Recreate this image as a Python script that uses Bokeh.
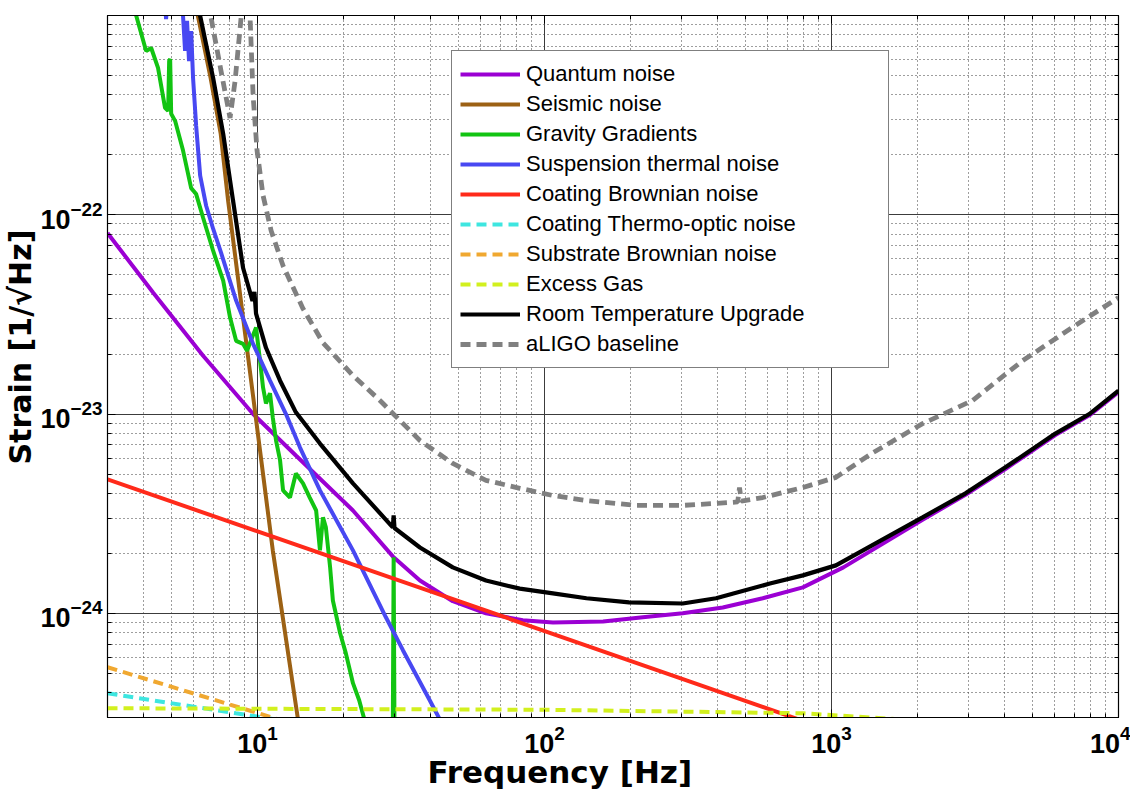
from bokeh.plotting import figure
from bokeh.models import (Range1d, LogAxis, FixedTicker, Legend, LegendItem, Title,
                          CustomJSTickFormatter)
from bokeh.embed import file_html
from bokeh.resources import INLINE

# ---------------- data ----------------
quantum_f = [3.0, 4.33, 6.46, 9.65, 13.6, 21.5, 29.6, 36.8, 47.9, 62.5, 84, 107, 160, 220,
             303, 418, 576, 795, 1100, 2076, 2930, 4036, 6026, 7913, 10000]
quantum_h = [8.1e-23, 4.06e-23, 1.96e-23, 1.0e-23, 6.19e-24, 3.28e-24, 1.93e-24, 1.46e-24,
             1.15e-24, 1.0e-24, 9.23e-25, 9.0e-25, 9.1e-25, 9.55e-25, 1.0e-24, 1.07e-24,
             1.19e-24, 1.35e-24, 1.70e-24, 2.95e-24, 3.93e-24, 5.3e-24, 7.85e-24, 9.85e-24,
             1.29e-23]

seismic_f = [5.9, 6.2, 6.86, 7.44, 7.9, 10.2, 11.3, 13.8, 14.6]
seismic_h = [1.45e-21, 9.9e-22, 4.86e-22, 2.55e-22, 1.17e-22, 6.56e-24, 2.07e-24, 3.0e-25,
             1.6e-25]

gravity_f = [3.54, 3.78, 4.09, 4.26, 4.50, 4.76, 4.88, 4.92, 4.96, 5.00, 5.16, 5.50, 5.87,
             6.11, 6.46, 7.0, 7.59, 8.02, 8.42, 8.9, 9.19, 9.88, 10.2, 10.45, 10.7, 11.05,
             11.3, 11.6, 11.98, 12.27, 12.97, 13.6, 14.4, 15.2, 16.0, 16.5, 16.9, 17.3,
             17.9, 18.3, 19.4, 20.3, 21.5, 22.6, 23.6, 25.2, 29.5, 29.8, 30.1, 40.0]
gravity_h = [1.49e-21, 9.94e-22, 6.64e-22, 6.87e-22, 5.46e-22, 3.44e-22, 3.32e-22, 5.92e-22,
             6.05e-22, 3.21e-22, 2.96e-22, 2.10e-22, 1.36e-22, 1.27e-22, 9.66e-23, 6.6e-23,
             4.67e-23, 3.05e-23, 2.33e-23, 2.25e-23, 2.08e-23, 2.72e-23, 1.85e-23, 1.36e-23,
             1.13e-23, 1.27e-23, 9.6e-24, 7.36e-24, 5.85e-24, 4.14e-24, 3.81e-24, 5.03e-24,
             4.49e-24, 3.81e-24, 3.28e-24, 2.07e-24, 3.03e-24, 2.70e-24, 1.70e-24, 1.16e-24,
             7.94e-25, 6.31e-25, 4.46e-25, 3.66e-25, 2.91e-25, 1.83e-25, 1.0e-25, 1.91e-24,
             1.0e-25, 5e-26]

suspension_f = [4.69, 4.80, 4.92, 5.41, 5.50, 5.59, 5.68, 5.77, 5.87, 5.96, 6.11, 6.31, 6.62,
                7.0, 7.46, 8.42, 9.65, 11.05, 12.56, 14.06, 16.5, 21.5, 28.0, 32.1, 39.8, 44.2]
suspension_h = [1.6e-21, 9.6e-22, 1.6e-21, 1.5e-21, 9.94e-22, 6.64e-22, 9.4e-22, 5.9e-22,
                8.35e-22, 4.86e-22, 2.79e-22, 1.57e-22, 1.11e-22, 8.51e-23, 6.45e-23,
                3.71e-23, 2.25e-23, 1.47e-23, 1.0e-23, 6.79e-24, 4.14e-24, 2.07e-24,
                9.55e-25, 6.53e-25, 3.66e-25, 2.75e-25]

coating_brown_f = [3, 30, 300, 1000]
coating_brown_h = [4.70e-24, 1.49e-24, 4.70e-25, 2.57e-25]

coating_to_f = [3, 8.4, 20]
coating_to_h = [3.97e-25, 3.15e-25, 2.6e-25]

substrate_f = [3, 10, 20]
substrate_h = [5.36e-25, 3.16e-25, 2.33e-25]

gas_f = [3, 100, 800, 2000, 10000]
gas_h = [3.34e-25, 3.28e-25, 3.15e-25, 2.9e-25, 2.5e-25]

rtu_f = [6.0, 6.31, 7.0, 7.59, 8.22, 8.9, 9.6, 9.75, 9.88, 10.7, 11.98, 13.6, 16.5,
         21.5, 29.6, 29.8, 30.0, 36.8, 47.9, 62.5, 82, 107, 140, 197, 303, 396, 610, 795,
         1036, 2076, 2930, 4036, 6026, 7913, 10000]
rtu_h = [1.4e-21, 9.94e-22, 4.86e-22, 2.55e-22, 1.17e-22, 5.42e-23, 3.7e-23, 4.1e-23,
         3.19e-23, 2.15e-23, 1.47e-23, 1.02e-23, 7.11e-24, 4.49e-24, 2.70e-24,
         3.10e-24, 2.68e-24, 2.14e-24, 1.70e-24, 1.46e-24, 1.33e-24, 1.26e-24, 1.19e-24,
         1.135e-24, 1.12e-24, 1.19e-24, 1.41e-24, 1.55e-24, 1.74e-24, 3.03e-24, 4.0e-24,
         5.4e-24, 7.98e-24, 1.0e-23, 1.31e-23]

aligo_f = [6.72, 6.89, 7.46, 8.02, 8.35, 8.76, 9.0, 9.42, 9.65, 9.96, 10.45, 11.15, 12.27,
           14.4, 16.9, 21.5, 26.7, 36.8, 47.9, 62.5, 82, 107, 140, 207, 303, 396, 471, 478,
           485, 576, 795, 1036, 1380, 2076, 3105, 4628, 6900, 10000]
aligo_h = [1.4e-21, 9.7e-22, 5.27e-22, 3.06e-22, 4.70e-22, 9.7e-22, 3.0e-21, 9.7e-22,
           3.94e-22, 2.10e-22, 1.25e-22, 8.32e-23, 5.55e-23, 3.38e-23, 2.28e-23, 1.56e-23,
           1.17e-23, 7.36e-24, 5.65e-24, 4.65e-24, 4.24e-24, 3.90e-24, 3.68e-24, 3.48e-24,
           3.48e-24, 3.56e-24, 3.62e-24, 4.28e-24, 3.66e-24, 3.81e-24, 4.28e-24, 4.81e-24,
           6.34e-24, 8.95e-24, 1.17e-23, 1.85e-23, 2.72e-23, 3.84e-23]

x_major = [10, 100, 1000, 10000]
x_minor = [3, 4, 5, 6, 7, 8, 9, 20, 30, 40, 50, 60, 70, 80, 90,
           200, 300, 400, 500, 600, 700, 800, 900,
           2000, 3000, 4000, 5000, 6000, 7000, 8000, 9000]
y_major = [1e-24, 1e-23, 1e-22]
y_minor = [3e-25, 4e-25, 5e-25, 6e-25, 7e-25, 8e-25, 9e-25,
           2e-24, 3e-24, 4e-24, 5e-24, 6e-24, 7e-24, 8e-24, 9e-24,
           2e-23, 3e-23, 4e-23, 5e-23, 6e-23, 7e-23, 8e-23, 9e-23,
           2e-22, 3e-22, 4e-22, 5e-22, 6e-22, 7e-22, 8e-22, 9e-22]

# ---------------- figure ----------------
p = figure(frame_width=1011, frame_height=702, x_axis_type="log", y_axis_type="log",
           x_range=Range1d(3, 1e4), y_range=Range1d(3e-25, 1e-21),
           output_backend="svg", toolbar_location=None,
           min_border_left=105, min_border_right=12, min_border_top=15, min_border_bottom=76)
p.background_fill_color = "white"
p.border_fill_color = "white"
p.outline_line_color = "black"
p.outline_line_width = 1.2

xticker = FixedTicker(ticks=x_major, minor_ticks=x_minor)
yticker = FixedTicker(ticks=y_major, minor_ticks=y_minor)
p.xaxis[0].ticker = xticker
p.yaxis[0].ticker = yticker
p.xgrid[0].ticker = xticker
p.ygrid[0].ticker = yticker

for g in (p.xgrid[0], p.ygrid[0]):
    g.grid_line_color = "#3c3c3c"
    g.grid_line_width = 1
    g.minor_grid_line_color = "#3c3c3c"
    g.minor_grid_line_dash = "1 3"
    g.minor_grid_line_width = 1

for ax in (p.xaxis[0], p.yaxis[0]):
    ax.major_tick_in = 8
    ax.major_tick_out = 0
    ax.minor_tick_in = 4
    ax.minor_tick_out = 0
    ax.axis_line_color = "black"
    ax.major_tick_line_color = "black"
    ax.minor_tick_line_color = "black"
    ax.major_label_text_font = "Liberation Sans"
    ax.major_label_text_font_style = "bold"
    ax.major_label_text_font_size = "27px"
    ax.major_label_text_color = "black"
p.xaxis[0].major_label_standoff = 7
p.yaxis[0].major_label_standoff = 5

blank = CustomJSTickFormatter(code="return ''")
for loc, tk in (("right", yticker), ("above", xticker)):
    ax = LogAxis(ticker=tk, formatter=blank, major_label_text_font_size="1px",
                 major_label_standoff=0, major_tick_in=8, major_tick_out=0,
                 minor_tick_in=4, minor_tick_out=0, axis_line_color="black",
                 major_tick_line_color="black", minor_tick_line_color="black")
    p.add_layout(ax, loc)

# ---------------- curves ----------------
lw = 4
r_q = p.line(quantum_f, quantum_h, line_color="#9B00D3", line_width=lw)
r_s = p.line(seismic_f, seismic_h, line_color="#9C6114", line_width=lw)
r_g = p.line(gravity_f, gravity_h, line_color="#12C412", line_width=lw)
r_su = p.line(suspension_f, suspension_h, line_color="#4848F2", line_width=lw)
r_cb = p.line(coating_brown_f, coating_brown_h, line_color="#FF2A1A", line_width=lw)
r_ct = p.line(coating_to_f, coating_to_h, line_color="#3EE6E0", line_width=lw, line_dash="10 6")
r_sb = p.line(substrate_f, substrate_h, line_color="#F0A830", line_width=lw, line_dash="10 6")
r_eg = p.line(gas_f, gas_h, line_color="#D2F01E", line_width=lw, line_dash="10 6")
r_rt = p.line(rtu_f, rtu_h, line_color="black", line_width=4.2)
r_al = p.line(aligo_f, aligo_h, line_color="#808080", line_width=4.8, line_dash="10 6")

legend = Legend(items=[
    LegendItem(label="Quantum noise", renderers=[r_q]),
    LegendItem(label="Seismic noise", renderers=[r_s]),
    LegendItem(label="Gravity Gradients", renderers=[r_g]),
    LegendItem(label="Suspension thermal noise", renderers=[r_su]),
    LegendItem(label="Coating Brownian noise", renderers=[r_cb]),
    LegendItem(label="Coating Thermo-optic noise", renderers=[r_ct]),
    LegendItem(label="Substrate Brownian noise", renderers=[r_sb]),
    LegendItem(label="Excess Gas", renderers=[r_eg]),
    LegendItem(label="Room Temperature Upgrade", renderers=[r_rt]),
    LegendItem(label="aLIGO baseline", renderers=[r_al]),
], location=(344, 349))
legend.label_text_font = "Liberation Sans"
legend.label_text_font_size = "22px"
legend.label_text_color = "black"
legend.glyph_width = 60
legend.glyph_height = 30
legend.label_height = 30
legend.label_width = 354
legend.label_standoff = 6
legend.spacing = 0
legend.padding = 8
legend.margin = 0
legend.border_line_color = "black"
legend.border_line_width = 1
legend.background_fill_color = "white"
legend.background_fill_alpha = 1
p.add_layout(legend)

p.add_layout(Title(text="Frequency [Hz]", align="left", offset=320, standoff=-8,
                   text_font="DejaVu Sans", text_font_style="bold",
                   text_font_size="31px", text_color="black"), "below")
p.add_layout(Title(text="Strain [1/\u221aHz]", align="left", offset=253, standoff=0,
                   text_font="DejaVu Sans", text_font_style="bold",
                   text_font_size="30px", text_color="black"), "left")

open("out.html", "w").write(file_html(p, INLINE))
